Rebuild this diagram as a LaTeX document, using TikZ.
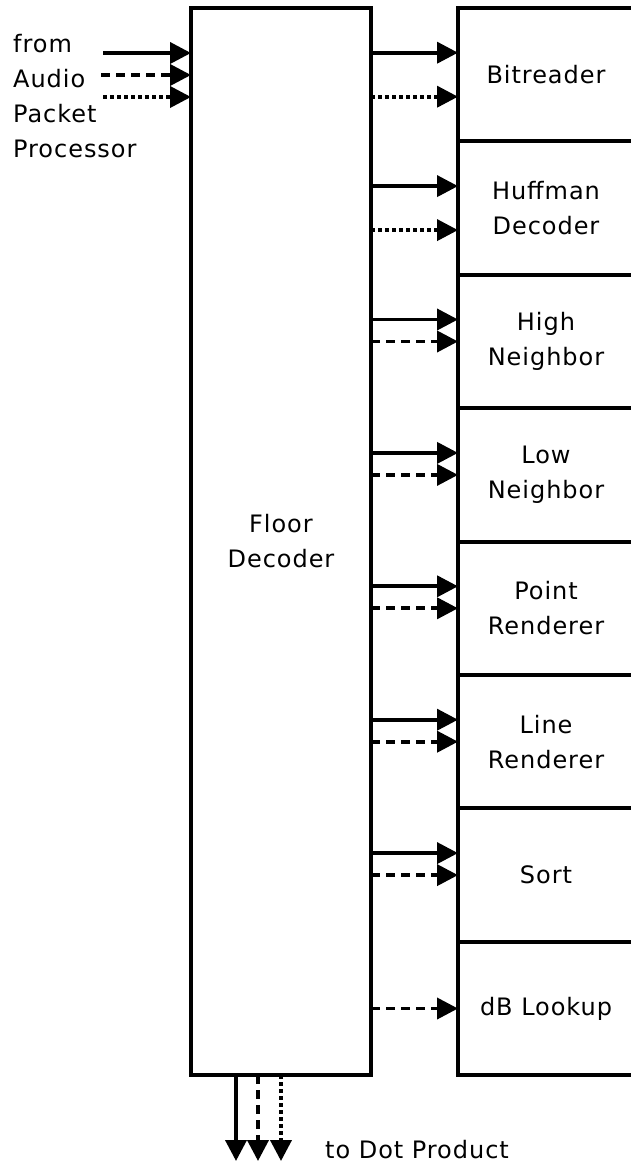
\documentclass[tikz,border=0pt]{standalone}
\usepackage{fontspec}
\setmainfont[LetterSpace=4]{DejaVu Sans}
\usetikzlibrary{arrows.meta}
\begin{document}
\begin{tikzpicture}[x=1pt,y=1pt,
  every node/.style={font=\fontsize{24}{35}\selectfont},
  box/.style={draw,line width=4pt,outer sep=0pt,inner sep=0pt,align=center},
  sub/.style={box,minimum width=176pt,minimum height=133.4pt},
  conn/.style={line width=3.8pt,-{Triangle[length=21pt,width=21pt]}},
  sol/.style={conn},
  dsh/.style={conn,dash pattern=on 9pt off 6pt},
  dot/.style={conn,dash pattern=on 3.5pt off 3.5pt}]
\useasboundingbox (0,0) rectangle (631,-1169);
\node[box,minimum width=180pt,minimum height=1067pt] (fd) at (281,-541.5) {Floor\\Decoder};
\node[sub] (b1) at (546,-74.7) {Bitreader};
\node[sub] (b2) at (546,-208.1) {Huffman\\Decoder};
\node[sub] (b3) at (546,-341.5) {High\\Neighbor};
\node[sub] (b4) at (546,-474.9) {Low\\Neighbor};
\node[sub] (b5) at (546,-608.3) {Point\\Renderer};
\node[sub] (b6) at (546,-741.7) {Line\\Renderer};
\node[sub] (b7) at (546,-875.1) {Sort};
\node[sub] (b8) at (546,-1008.5) {dB Lookup};
% input
\node[anchor=north west,align=left,inner sep=0pt] (src) at (13,-34) {from\\Audio\\Packet\\Processor};
\coordinate (i1) at (103,-53);
\coordinate (i2) at (101,-75);
\coordinate (i3) at (103,-97);
\draw[sol] (i1) -- (i1 -| fd.west);
\draw[dsh] (i2) -- (i2 -| fd.west);
\draw[dot] (i3) -- (i3 -| fd.west);
% outputs to sub-blocks
\draw[sol] ([yshift=22pt]b1.west -| fd.east) -- ([yshift=22pt]b1.west);
\draw[dot] ([yshift=-22pt]b1.west -| fd.east) -- ([yshift=-22pt]b1.west);
\draw[sol] ([yshift=22pt]b2.west -| fd.east) -- ([yshift=22pt]b2.west);
\draw[dot] ([yshift=-22pt]b2.west -| fd.east) -- ([yshift=-22pt]b2.west);
\foreach \b in {b3,b4,b5,b6,b7}{
  \draw[sol] ([yshift=22pt]\b.west -| fd.east) -- ([yshift=22pt]\b.west);
  \draw[dsh] (\b.west -| fd.east) -- (\b.west);
}
\draw[dsh] (b8.west -| fd.east) -- (b8.west);
% outputs down
\coordinate (o1) at (236,-1161);
\coordinate (o2) at (258,-1161);
\coordinate (o3) at (281,-1161);
\draw[sol] (o1 |- fd.south) -- (o1);
\draw[dsh] (o2 |- fd.south) -- (o2);
\draw[dot] (o3 |- fd.south) -- (o3);
\node[anchor=base west,inner sep=0pt] (dst) at (325,-1158) {to Dot Product};
\end{tikzpicture}
\end{document}
